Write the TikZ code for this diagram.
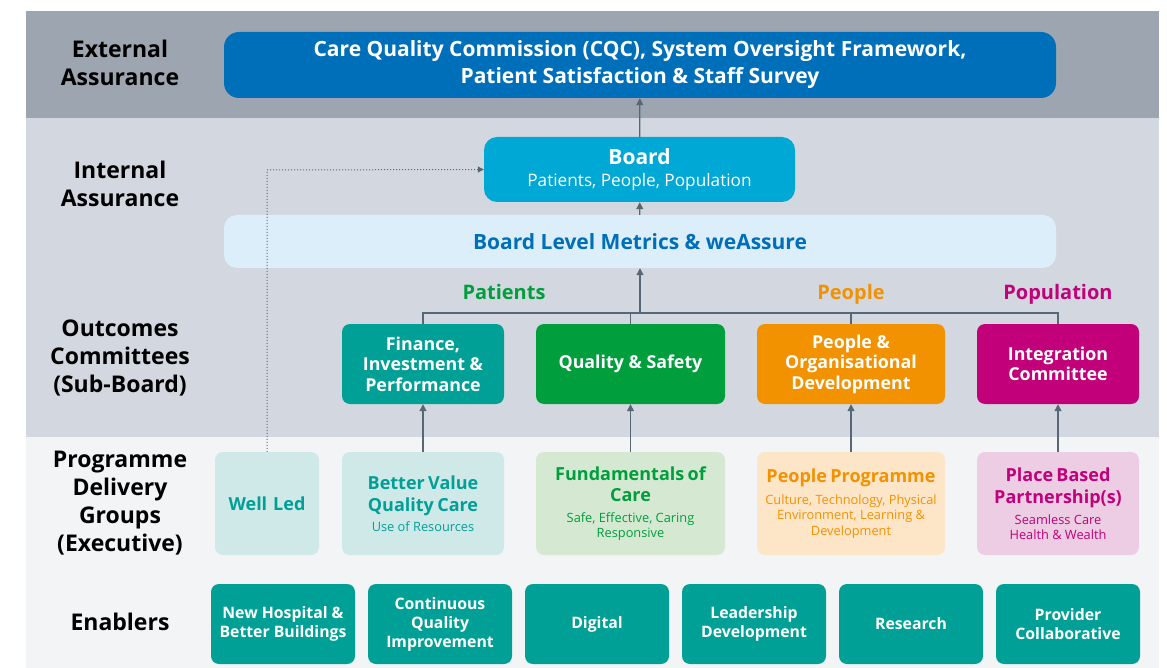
\documentclass[tikz,border=0pt]{standalone}
\usepackage{fontspec}
\setmainfont{Open Sans}
\usetikzlibrary{arrows.meta}

\definecolor{bandtop}{HTML}{9CA5B0}
\definecolor{bandmid}{HTML}{D3D8E0}
\definecolor{bandlow}{HTML}{F3F4F6}
\definecolor{cqcblue}{HTML}{006FB9}
\definecolor{boardblue}{HTML}{00A8D6}
\definecolor{metricsfill}{HTML}{DDEEFB}
\definecolor{nhsteal}{HTML}{00A096}
\definecolor{nhsgreen}{HTML}{009E3D}
\definecolor{nhsorange}{HTML}{F39200}
\definecolor{nhsmagenta}{HTML}{C2007A}
\definecolor{tealpale}{HTML}{CFE8E8}
\definecolor{greenpale}{HTML}{D5E9D2}
\definecolor{orangepale}{HTML}{FDE5C8}
\definecolor{magentapale}{HTML}{EDCDE3}
\definecolor{connector}{HTML}{566778}

\begin{document}
\begin{tikzpicture}[x=1pt,y=-1pt,
	lab/.style={align=center,font=\bfseries\fontsize{23}{28}\selectfont},
	box/.style={rounded corners=8pt,inner sep=0pt,align=center,text=white},
	cmte/.style={box,minimum height=80,font=\bfseries\fontsize{17.8}{20.5}\selectfont},
	pgbox/.style={box,minimum height=103,text width=#1,minimum width=#1},
	enabler/.style={box,fill=nhsteal,minimum width=144,minimum height=80,font=\bfseries\fontsize{15.8}{19}\selectfont},
	theme/.style={font=\bfseries\fontsize{20}{22}\selectfont,text height=14pt,text depth=4pt},
	conn/.style={connector,line width=1.2pt},
	tip/.style={-{Triangle[length=7pt,width=7pt]}}]
	\useasboundingbox (0,0) rectangle (1167,668);

	% bands
	\fill[bandtop] (26,11) rectangle (1159,118);
	\fill[bandmid] (26,118) rectangle (1159,437);
	\fill[bandlow] (26,437) rectangle (1159,668);

	% row labels
	\node[lab] (extlab) at (120,63) {External\\Assurance};
	\node[lab] (intlab) at (120,184) {Internal\\Assurance};
	\node[lab] (outlab) at (120,358) {Outcomes\\Committees\\(Sub-Board)};
	\node[lab] (pdglab) at (120,503) {Programme\\Delivery\\Groups\\(Executive)};
	\node[lab] (enlab) at (120,622) {Enablers};

	% assurance
	\node[box,rounded corners=15pt,fill=cqcblue,minimum width=832,minimum height=66,
		font=\bfseries\fontsize{21}{27}\selectfont] (cqc) at (640,65)
		{Care Quality Commission (CQC), System Oversight Framework,\\Patient Satisfaction \& Staff Survey};
	\node[box,rounded corners=13pt,fill=boardblue,minimum width=311,minimum height=65] (board) at (639.5,169.5)
		{{\bfseries\fontsize{21}{24}\selectfont Board}\\[7pt]{\fontsize{17.2}{20}\selectfont Patients, People, Population}};
	\node[box,rounded corners=13pt,fill=metricsfill,text=cqcblue,minimum width=832,minimum height=53,
		font=\bfseries\fontsize{21}{24}\selectfont] (metrics) at (640,241.5) {Board Level Metrics \& weAssure};

	% outcomes committees
	\node[cmte,fill=nhsteal,minimum width=162] (fin) at (423,364) {Finance,\\Investment \&\\Performance};
	\node[cmte,fill=nhsgreen,minimum width=189] (qs) at (630.5,364) {Quality \& Safety};
	\node[cmte,fill=nhsorange,minimum width=188] (pod) at (851,364) {People \&\\Organisational\\Development};
	\node[cmte,fill=nhsmagenta,minimum width=162] (integ) at (1058,364) {Integration\\Committee};

	\node[theme,text=nhsgreen] (patients) at (504,295) {Patients};
	\node[theme,text=nhsorange] (people) at (851,295) {People};
	\node[theme,text=nhsmagenta] (population) at (1058,295) {Population};

	% programme delivery groups
	\node[pgbox=104,fill=tealpale,text=nhsteal,font=\bfseries\fontsize{18}{21}\selectfont] (wellled) at (267,503.5) {Well Led};
	\node[pgbox=162,fill=tealpale,text=nhsteal] (bvqc) at (423,503.5)
		{{\bfseries\fontsize{18}{21.5}\selectfont Better Value\\Quality Care\par}\vspace{5pt}{\fontsize{12.8}{15}\selectfont Use of Resources\par}};
	\node[pgbox=189,fill=greenpale,text=nhsgreen] (foc) at (630.5,503.5)
		{{\bfseries\fontsize{18}{21.5}\selectfont Fundamentals of\\Care\par}\vspace{6pt}{\fontsize{12.8}{15}\selectfont Safe, Effective, Caring\\Responsive\par}};
	\node[pgbox=188,fill=orangepale,text=nhsorange] (ppg) at (851,503.5)
		{{\bfseries\fontsize{18}{21.5}\selectfont People Programme\par}\vspace{6pt}{\fontsize{12.8}{15.5}\selectfont Culture, Technology, Physical\\Environment, Learning \&\\Development\par}};
	\node[pgbox=162,fill=magentapale,text=nhsmagenta] (pbp) at (1058,503.5)
		{{\bfseries\fontsize{18}{21.5}\selectfont Place Based\\Partnership(s)\par}\vspace{6pt}{\fontsize{12.8}{15}\selectfont Seamless Care\\Health \& Wealth\par}};

	% enablers
	\node[enabler] (hosp) at (283,624) {New Hospital \&\\Better Buildings};
	\node[enabler] (cqi) at (440,624) {Continuous\\Quality\\Improvement};
	\node[enabler] (digital) at (597,624) {Digital};
	\node[enabler] (lead) at (754,624) {Leadership\\Development};
	\node[enabler] (research) at (911,624) {Research};
	\node[enabler] (collab) at (1068,624) {Provider\\Collaborative};

	% connectors
	\coordinate (fork) at (640,313);
	\draw[conn,tip] (board) -- (cqc);
	\draw[conn,tip] (metrics) -- (board);
	\draw[conn,tip] (fork) -- (metrics);
	\draw[conn] (fin.north) |- (fork) -| (integ.north);
	\draw[conn] (qs.north) -- (qs.north |- fork);
	\draw[conn] (pod.north) -- (pod.north |- fork);
	\draw[conn,tip] (bvqc) -- (fin);
	\draw[conn,tip] (foc) -- (qs);
	\draw[conn,tip] (ppg) -- (pod);
	\draw[conn,tip] (pbp) -- (integ);
	\coordinate (bend) at (267,170);
	\draw[connector,line width=1pt,dotted,-{Triangle[length=6pt,width=6pt]}] (wellled.north) -- (bend) -- (board.west);
\end{tikzpicture}
\end{document}
